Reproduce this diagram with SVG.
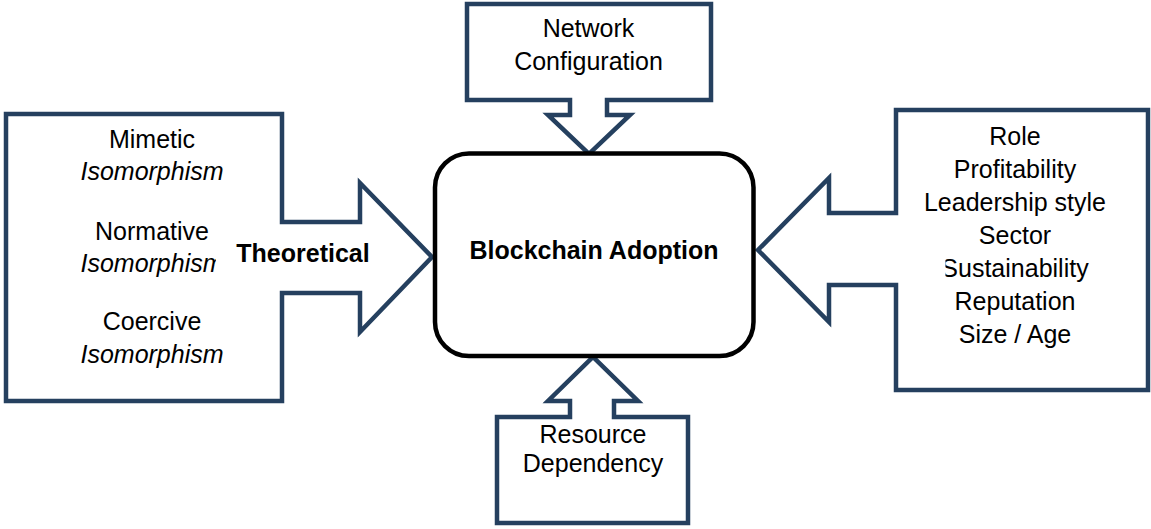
<svg xmlns="http://www.w3.org/2000/svg" width="1151" height="529" viewBox="0 0 1151 529">
  <style>
    .callout { fill: #ffffff; stroke: #25405f; stroke-width: 4.5; stroke-linejoin: miter; }
    .core { fill: #ffffff; stroke: #000000; stroke-width: 4.5; }
    .t { font-family: "Liberation Sans", Arial, sans-serif; font-size: 25px; fill: #000000; text-anchor: middle; }
    .i { font-style: italic; }
    .b { font-weight: bold; }
  </style>
  <defs>
    <clipPath id="clipNormative"><rect x="0" y="240" width="216" height="50"/></clipPath>
    <clipPath id="clipSustain"><rect x="945.5" y="250" width="200" height="40"/></clipPath>
  </defs>
  <rect width="1151" height="529" fill="#ffffff"/>

  <!-- arrow callouts pointing at the core node -->
  <g id="connectors">
    <polygon id="arrow-theoretical" class="callout" points="6,114 282,114 282,222 360,222 360,183 432,257 360,332 360,293 282,293 282,401 6,401"/>
    <polygon id="arrow-network" class="callout" points="467,4 711,4 711,100 607,100 607,115 630,115 589,154 548,115 570,115 570,100 467,100"/>
    <polygon id="arrow-firm" class="callout" points="896,110 1148,110 1148,390 896,390 896,285 829,285 829,322 758,250 829,178 829,213 896,213"/>
    <polygon id="arrow-resource" class="callout" points="497,417 570,417 570,401 548,401 593,357 638,401 614,401 614,417 688,417 688,523 497,523"/>
  </g>

  <g id="node-theoretical">
    <text class="t" x="152" y="148">Mimetic</text>
    <text class="t i" x="152" y="180">Isomorphism</text>
    <text class="t" x="152" y="240">Normative</text>
    <text class="t i" x="152" y="272" clip-path="url(#clipNormative)">Isomorphism</text>
    <text class="t" x="152" y="330">Coercive</text>
    <text class="t i" x="152" y="363">Isomorphism</text>
    <text class="t b" x="303" y="262">Theoretical</text>
  </g>

  <g id="node-network">
    <text class="t" x="588.5" y="37">Network</text>
    <text class="t" x="588.5" y="70">Configuration</text>
  </g>

  <g id="node-firm">
    <text class="t" x="1015" y="145">Role</text>
    <text class="t" x="1015" y="178">Profitability</text>
    <text class="t" x="1015" y="211">Leadership style</text>
    <text class="t" x="1015" y="244">Sector</text>
    <text class="t" x="1015" y="277" clip-path="url(#clipSustain)">Sustainability</text>
    <text class="t" x="1015" y="310">Reputation</text>
    <text class="t" x="1015" y="343">Size / Age</text>
  </g>

  <g id="node-resource">
    <text class="t" x="593" y="443">Resource</text>
    <text class="t" x="593" y="472">Dependency</text>
  </g>

  <g id="node-adoption">
    <rect class="core" x="435" y="153.5" width="318.5" height="202.5" rx="34" ry="34"/>
    <text class="t b" x="594" y="259">Blockchain Adoption</text>
  </g>
</svg>
